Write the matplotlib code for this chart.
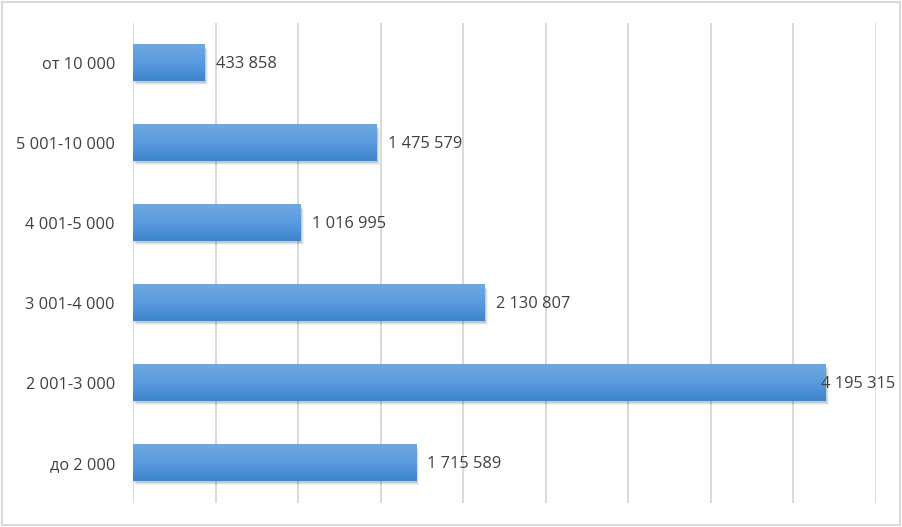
import matplotlib.pyplot as plt
import matplotlib.patches as mpatches
import matplotlib.transforms as mtransforms
import numpy as np

# данные (снизу вверх)
categories = ['до 2 000', '2 001-3 000', '3 001-4 000', '4 001-5 000', '5 001-10 000', 'от 10 000']
values = [1715589, 4195315, 2130807, 1016995, 1475579, 433858]

plt.rcParams['font.family'] = ['Open Sans', 'DejaVu Sans']

fig = plt.figure(figsize=(9.02, 5.27), dpi=100)
ax = fig.add_axes([133 / 902, 1 - 503 / 527, 743 / 902, 480 / 527])

ax.set_xlim(0, 4500000)
ax.set_ylim(-0.5, len(categories) - 0.5)
ax.set_xticks(np.arange(0, 4500001, 500000))
ax.xaxis.grid(True, color='#d9d9d9', linewidth=1.4)
ax.set_axisbelow(True)
ax.tick_params(axis='x', length=0, labelbottom=False)
ax.tick_params(axis='y', length=0, pad=13, labelsize=11.8, labelcolor='#404040')
ax.set_yticks(range(len(categories)))
ax.set_yticklabels(categories)
for s in ax.spines.values():
    s.set_visible(False)

bar_h = 0.46
grad = np.linspace(0, 1, 100).reshape(-1, 1)
cmap = plt.matplotlib.colors.LinearSegmentedColormap.from_list('g', ['#3c85cb', '#5a9be0', '#6fa8de'])

for i, v in enumerate(values):
    # тень
    for k, a in enumerate([0.10, 0.08, 0.05]):
        off = mtransforms.offset_copy(ax.transData, fig=fig, x=1 + k, y=-(2 + k), units='dots')
        ax.add_patch(mpatches.Rectangle((0, i - bar_h / 2), v, bar_h, color='black',
                                        alpha=a, lw=0, zorder=2, transform=off))
    ax.imshow(grad, cmap=cmap, origin='lower', aspect='auto', zorder=3,
              extent=(0, v, i - bar_h / 2, i + bar_h / 2))
    label = f'{v:,}'.replace(',', ' ')
    if v == max(values):
        ax.annotate(label, xy=(1, i), xycoords=('axes fraction', 'data'), xytext=(19, -1),
                    textcoords='offset pixels', ha='right', va='center', fontsize=11.8,
                    color='#404040', zorder=5)
    else:
        ax.annotate(label, xy=(v, i), xytext=(11, -1), textcoords='offset pixels',
                    ha='left', va='center', fontsize=11.8, color='#404040', zorder=5)

ax.set_xlim(0, 4500000)
ax.set_ylim(-0.5, len(categories) - 0.5)

# рамка вокруг диаграммы
fig.patches.append(mpatches.Rectangle((0.002, 0.003), 0.996, 0.994, transform=fig.transFigure,
                                      fill=False, edgecolor='#d9d9d9', linewidth=1.5))

fig.savefig('out.png', dpi=100)
